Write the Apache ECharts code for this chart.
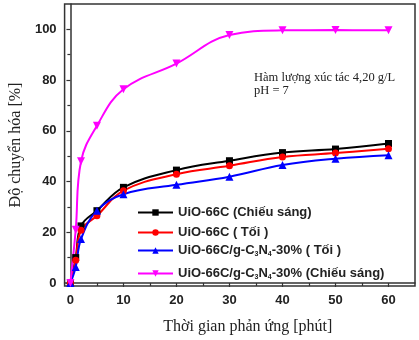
<!DOCTYPE html>
<html>
<head>
<meta charset="utf-8">
<script src="https://cdn.jsdelivr.net/npm/echarts@6/dist/echarts.min.js"></script>
<style>html,body{margin:0;padding:0;background:#fff}#c{width:419px;height:340px}</style>
</head>
<body>
<div id="c"></div>
<script>
var times = [0, 1, 2, 5, 10, 20, 30, 40, 50, 60];
var uioLight = [0, 10, 22.5, 28.5, 37.7, 44.5, 48.2, 51.4, 52.8, 55];
var uioDark = [0, 9, 20.8, 26.5, 36.4, 42.9, 46.2, 49.7, 51.2, 52.9];
var compDark = [0, 6.3, 17.3, 28.5, 35, 38.7, 41.9, 46.5, 49, 50.4];
var compLight = [0, 21, 48, 62, 76.4, 86.5, 97.8, 99.6, 99.7, 99.6];
var xTicks = [0, 10, 20, 30, 40, 50, 60];
var xMinor = [5, 15, 25, 35, 45, 55];
var yTicks = [0, 20, 40, 60, 80, 100];
var yMinor = [10, 30, 50, 70, 90];
var names = ['UiO-66C (Chiếu sáng)', 'UiO-66C ( Tối )', 'UiO-66C/g-C3N4-30% ( Tối )', 'UiO-66C/g-C3N4-30% (Chiếu sáng)'];
var note1 = 'Hàm lượng xúc tác 4,20 g/L';
var note2 = 'pH = 7';

function pairs(ys) { return times.map(function (t, i) { return [t, ys[i]]; }); }

var chart = echarts.init(document.getElementById('c'));
var legTxt = {
  fontFamily: 'Liberation Sans', fontSize: 13, fontWeight: 'bold', color: '#222',
  rich: {
    a: { fontFamily: 'Liberation Sans', fontSize: 13, fontWeight: 'bold', color: '#222' },
    s: { fontFamily: 'Liberation Sans', fontSize: 7, fontWeight: 'bold', color: '#222', padding: [8, 0, 0, 0] }
  }
};
function fmt(n) {
  if (n.indexOf('C3N4') < 0) return '{a|' + n + '}';
  var parts = n.split('C3N4');
  return '{a|' + parts[0] + 'C}{s|3}{a|N}{s|4}{a|' + parts[1] + '}';
}
function leg(name, top) {
  return { data: [name], left: 137, top: top, orient: 'vertical', itemWidth: 35, itemHeight: 8,
    textStyle: legTxt, formatter: fmt, itemGap: 0, padding: 0, selectedMode: false };
}
function ser(name, ys, color, symbol, size, rot) {
  return { name: name, type: 'line', data: pairs(ys), smooth: 0.4,
    symbol: symbol, symbolSize: size, symbolRotate: rot || 0,
    lineStyle: { color: color, width: 2 }, itemStyle: { color: color }, z: 3 };
}
var axLab = { fontFamily: 'Liberation Sans', fontSize: 13, fontWeight: 'bold', color: '#222' };
chart.setOption({
  animation: false,
  grid: { left: 61, top: 4, right: 4, bottom: 53, show: true, borderColor: '#333', borderWidth: 1.5, backgroundColor: 'transparent' },
  legend: [leg(names[0], 206), leg(names[1], 226), leg(names[2], 244), leg(names[3], 267)],
  xAxis: [
    { type: 'value', min: -1.1, max: 65, position: 'bottom',
      name: 'Thời gian phản ứng [phút]', nameLocation: 'middle', nameGap: 33,
      nameTextStyle: { fontFamily: 'Liberation Serif', fontSize: 16, color: '#222', padding: [0, 0, 0, 16] },
      axisLine: { lineStyle: { color: '#333', width: 1.5 } },
      axisTick: { customValues: xTicks, length: 4, lineStyle: { color: '#333', width: 1.2 } },
      axisLabel: Object.assign({ customValues: xTicks, margin: 8 }, axLab),
      splitLine: { show: false } },
    { type: 'value', min: -1.1, max: 65, position: 'bottom',
      axisLine: { show: false },
      axisTick: { customValues: xMinor, length: 3, lineStyle: { color: '#333', width: 1.2 } },
      axisLabel: { show: false }, splitLine: { show: false } }
  ],
  yAxis: [
    { type: 'value', min: -1.2, max: 110, position: 'left',
      name: 'Độ chuyển hóa [%]', nameLocation: 'middle', nameGap: 36,
      nameTextStyle: { fontFamily: 'Liberation Serif', fontSize: 16, color: '#222' },
      axisLine: { show: true, lineStyle: { color: '#333', width: 1.5 } },
      axisTick: { show: true, customValues: yTicks, length: 4, lineStyle: { color: '#333', width: 1.2 } },
      axisLabel: Object.assign({ customValues: yTicks, margin: 8 }, axLab),
      splitLine: { show: false } },
    { type: 'value', min: -1.2, max: 110, position: 'left',
      axisLine: { show: false },
      axisTick: { show: true, customValues: yMinor, length: 3, lineStyle: { color: '#333', width: 1.2 } },
      axisLabel: { show: false }, splitLine: { show: false } }
  ],
  graphic: [
    { type: 'text', left: 254, top: 71, style: { text: note1 + '\n' + note2, font: '12.5px "Liberation Serif"', fill: '#222', lineHeight: 13 } }
  ],
  series: [
    ser(names[0], uioLight, '#000000', 'rect', 7),
    ser(names[1], uioDark, '#ff0000', 'circle', 7),
    ser(names[2], compDark, '#0000ff', 'triangle', 8),
    ser(names[3], compLight, '#ff00ff', 'triangle', 8, 180)
  ]
});
</script>
</body>
</html>
